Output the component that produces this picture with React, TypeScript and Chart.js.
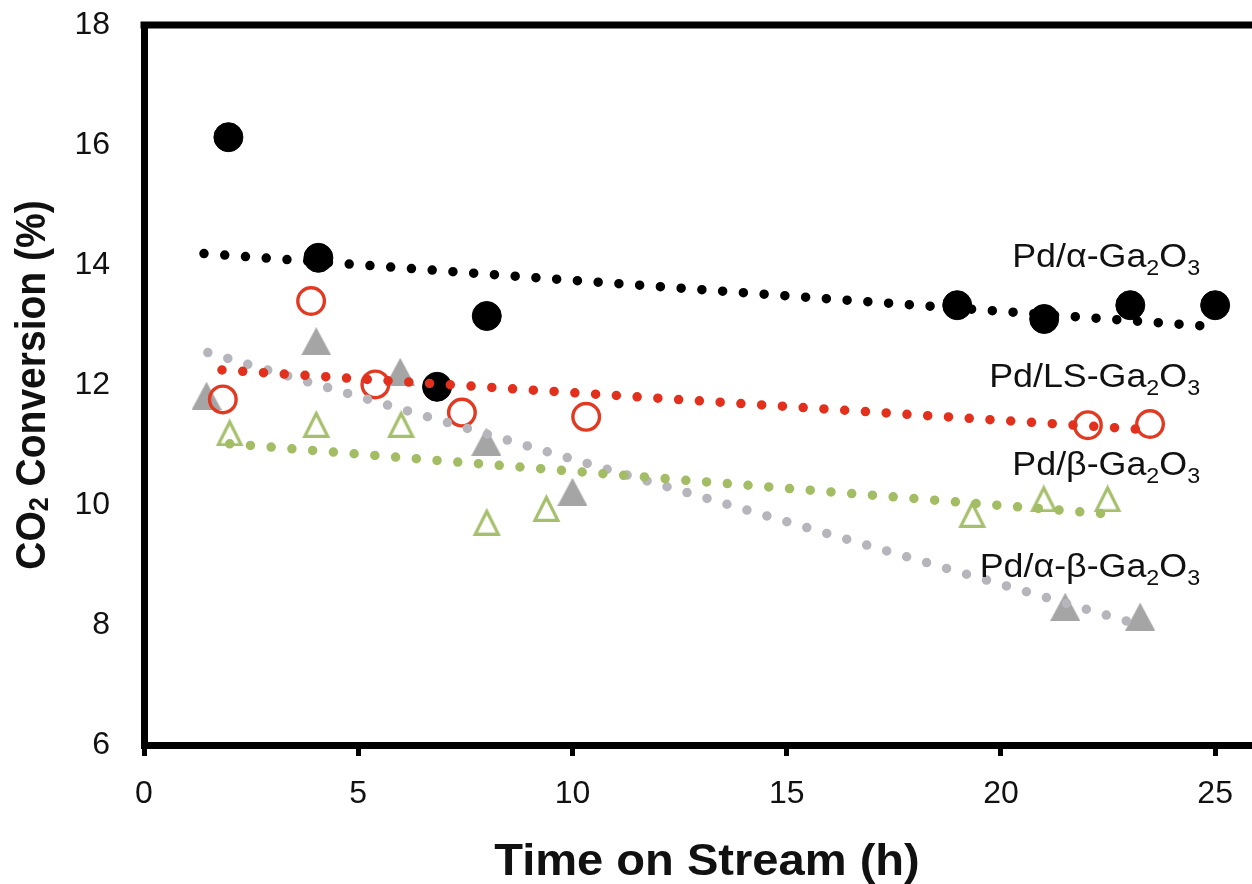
import React, { useEffect, useRef } from "react";
import { Chart, registerables } from "chart.js";

Chart.register(...registerables);

// ---- data ----
const xTicks = [0, 5, 10, 15, 20, 25];
const yTicks = [6, 8, 10, 12, 14, 16, 18];
const xMin = 0;
const xMax = 25.86;
const yMin = 6;
const yMax = 18;

const alphaX = [1.97, 4.07, 6.84, 8.0, 18.98, 21.01, 23.02, 25.0];
const alphaY = [16.13, 14.12, 11.97, 13.15, 13.33, 13.1, 13.33, 13.33];

const lsX = [1.84, 3.9, 5.4, 7.42, 10.32, 22.03, 23.48];
const lsY = [11.76, 13.4, 12.01, 11.54, 11.47, 11.33, 11.35];

const betaX = [2.0, 4.02, 6.0, 8.0, 9.39, 19.33, 21.0, 22.49];
const betaY = [11.21, 11.35, 11.35, 9.72, 9.95, 9.85, 10.11, 10.11];

const abX = [1.46, 4.02, 5.98, 7.99, 10.0, 21.5, 23.25];
const abY = [11.82, 12.73, 12.22, 11.055, 10.22, 8.305, 8.14];

// linear trend line end points
const alphaTrendX = [1.4, 24.8];
const alphaTrendY = [14.19, 12.98];
const lsTrendX = [1.82, 23.48];
const lsTrendY = [12.25, 11.25];
const betaTrendX = [2.0, 22.49];
const betaTrendY = [11.02, 9.85];
const abTrendX = [1.49, 23.25];
const abTrendY = [12.54, 8.0];

const seriesLabels = ["Pd/α-Ga_2O_3", "Pd/LS-Ga_2O_3", "Pd/β-Ga_2O_3", "Pd/α-β-Ga_2O_3"];
const xTitle = "Time on Stream (h)";
const yTitle = "CO_2 Conversion (%)";

// ---- styles ----
const FONT = '"Liberation Sans", Arial, Helvetica, sans-serif';
const BLACK = "#000000";
const RED = "#e23a22";
const RED_DOT = "#e2301c";
const GREY = "#a5a5a5";
const GREY_DOT = "#b5b5bb";
const GREEN = "#a5bf6b";
const GREEN_DOT = "#a2bd63";

type Part = { t: string; sub: boolean };
function parseRich(s: string): Part[] {
  const parts: Part[] = [];
  let buf = "";
  for (let i = 0; i < s.length; i++) {
    if (s[i] === "_" && i + 1 < s.length) {
      if (buf) parts.push({ t: buf, sub: false });
      buf = "";
      parts.push({ t: s[i + 1], sub: true });
      i++;
    } else buf += s[i];
  }
  if (buf) parts.push({ t: buf, sub: false });
  return parts;
}

function drawRich(
  ctx: CanvasRenderingContext2D,
  s: string,
  size: number,
  subSize: number,
  subDy: number,
  weight: string,
  align: "right" | "center"
) {
  const parts = parseRich(s);
  const fontOf = (p: Part) => `${weight} ${p.sub ? subSize : size}px ${FONT}`;
  let w = 0;
  for (const p of parts) {
    ctx.font = fontOf(p);
    w += ctx.measureText(p.t).width;
  }
  let x = align === "right" ? -w : -w / 2;
  ctx.textAlign = "left";
  ctx.textBaseline = "alphabetic";
  for (const p of parts) {
    ctx.font = fontOf(p);
    ctx.fillText(p.t, x, p.sub ? subDy : 0);
    x += ctx.measureText(p.t).width;
  }
}

function triImg(w: number, h: number, fill: string | null, stroke: string | null, lw: number) {
  const c = document.createElement("canvas");
  c.width = w;
  c.height = h;
  const g = c.getContext("2d")!;
  g.beginPath();
  if (fill) {
    g.moveTo(w / 2, 0);
    g.lineTo(w, h);
    g.lineTo(0, h);
    g.closePath();
    g.fillStyle = fill;
    g.fill();
  }
  if (stroke) {
    const ix = lw * 0.95;
    g.beginPath();
    g.moveTo(w / 2, lw * 1.1);
    g.lineTo(w - ix, h - lw / 2);
    g.lineTo(ix, h - lw / 2);
    g.closePath();
    g.lineJoin = "miter";
    g.lineWidth = lw;
    g.strokeStyle = stroke;
    g.stroke();
  }
  return c;
}

const pts = (xs: number[], ys: number[]) => xs.map((x, i) => ({ x, y: ys[i] }));

const annotPlugin = {
  id: "annot",
  afterDraw(chart: any) {
    const { ctx, chartArea, scales } = chart;
    const sx = scales.x;
    const sy = scales.y;
    ctx.save();
    // top frame line
    ctx.strokeStyle = BLACK;
    ctx.lineWidth = 7;
    ctx.beginPath();
    ctx.moveTo(chartArea.left - 3.5, chartArea.top);
    ctx.lineTo(chart.width, chartArea.top);
    ctx.stroke();

    // series labels (right edge x value, baseline y value)
    const labelPos = [
      [24.65, 13.97],
      [24.65, 11.97],
      [24.65, 10.5],
      [24.65, 8.805],
    ];
    ctx.fillStyle = "#111";
    seriesLabels.forEach((s, i) => {
      ctx.save();
      ctx.translate(sx.getPixelForValue(labelPos[i][0]), sy.getPixelForValue(labelPos[i][1]));
      ctx.scale(1.085, 1);
      drawRich(ctx, s, 33, 21.5, 8, "normal", "right");
      ctx.restore();
    });

    // x title
    ctx.save();
    ctx.translate(707, 875);
    ctx.scale(1.07, 1);
    drawRich(ctx, xTitle, 44, 28, 8, "bold", "center");
    ctx.restore();

    // y title
    ctx.save();
    ctx.translate(45, (chartArea.top + chartArea.bottom) / 2);
    ctx.rotate(-Math.PI / 2);
    ctx.scale(1, 1.08);
    drawRich(ctx, yTitle, 39, 25, 3, "bold", "center");
    ctx.restore();

    ctx.restore();
  },
};

export default function App() {
  const ref = useRef<HTMLCanvasElement | null>(null);

  useEffect(() => {
    if (!ref.current) return;
    const greyTri = triImg(30, 28, GREY, null, 0);
    const greenTri = triImg(29, 28, null, GREEN, 3.2);

    const trend = (xs: number[], ys: number[], color: string, order: number) => ({
      data: pts(xs, ys),
      showLine: true,
      borderColor: color,
      backgroundColor: color,
      borderWidth: 9.5,
      borderDash: [0, 20.8],
      borderCapStyle: "round",
      pointRadius: 0,
      tension: 0,
      order,
      clip: false,
    });

    const chart = new Chart(ref.current, {
      type: "scatter",
      data: {
        datasets: [
          trend(lsTrendX, lsTrendY, RED_DOT, 1),
          trend(alphaTrendX, alphaTrendY, BLACK, 2),
          trend(betaTrendX, betaTrendY, GREEN_DOT, 3),
          trend(abTrendX, abTrendY, GREY_DOT, 4),
          {
            data: pts(lsX, lsY),
            pointStyle: "circle",
            pointRadius: 13.3,
            borderWidth: 3.4,
            borderColor: RED,
            backgroundColor: "rgba(255,255,255,0)",
            order: 5,
            clip: false,
          },
          {
            data: pts(alphaX, alphaY),
            pointStyle: "circle",
            pointRadius: 14.5,
            borderWidth: 1,
            borderColor: BLACK,
            backgroundColor: BLACK,
            order: 6,
            clip: false,
          },
          {
            data: pts(betaX, betaY),
            pointStyle: greenTri,
            pointRadius: 15,
            order: 7,
            clip: false,
          },
          {
            data: pts(abX, abY),
            pointStyle: greyTri,
            pointRadius: 15,
            order: 8,
            clip: false,
          },
        ] as any,
      },
      options: {
        responsive: false,
        animation: false,
        layout: { autoPadding: false, padding: { top: 25, left: 0, right: 0, bottom: 0 } },
        plugins: {
          legend: { display: false },
          tooltip: { enabled: false },
        },
        scales: {
          x: {
            type: "linear",
            min: xMin,
            max: xMax,
            afterBuildTicks: (s: any) => {
              s.ticks = xTicks.map((v) => ({ value: v }));
            },
            afterFit: (s: any) => {
              s.height = 139;
              s.paddingLeft = 0;
              s.paddingRight = 0;
            },
            grid: {
              display: true,
              drawOnChartArea: false,
              drawTicks: true,
              tickLength: 11,
              lineWidth: 5,
              color: BLACK,
            },
            border: { display: true, width: 7, color: BLACK },
            ticks: {
              font: { family: FONT, size: 32 },
              color: "#111",
              padding: 19,
              maxRotation: 0,
              autoSkip: false,
            },
          },
          y: {
            type: "linear",
            min: yMin,
            max: yMax,
            afterBuildTicks: (s: any) => {
              s.ticks = yTicks.map((v) => ({ value: v }));
            },
            afterFit: (s: any) => {
              s.width = 144;
              s.paddingTop = 0;
              s.paddingBottom = 0;
            },
            grid: { display: false, drawTicks: false },
            border: { display: true, width: 7, color: BLACK },
            ticks: {
              font: { family: FONT, size: 32 },
              color: "#111",
              padding: 34,
              autoSkip: false,
            },
          },
        },
      } as any,
      plugins: [annotPlugin],
    });
    return () => chart.destroy();
  }, []);

  return (
    <div style={{ position: "absolute", left: 0, top: 0, width: 1252, height: 884, background: "#fff" }}>
      <canvas ref={ref} width={1252} height={884} style={{ display: "block", width: 1252, height: 884 }} />
    </div>
  );
}
